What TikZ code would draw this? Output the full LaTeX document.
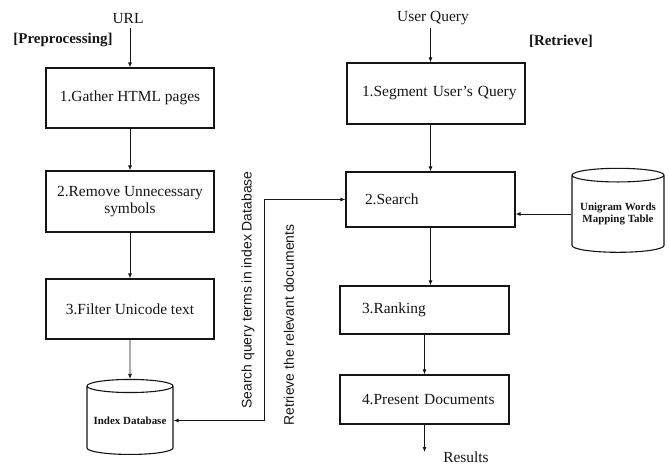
\documentclass[tikz,border=0pt]{standalone}
\usepackage{fontspec}
\setmainfont{Liberation Serif}
\newfontfamily\edgefont{Liberation Sans}
\usepackage{tikz}
\usetikzlibrary{shapes.geometric, arrows.meta, positioning, calc}
\definecolor{inkblack}{HTML}{151515}

\tikzset{
  stepbox/.style={draw=inkblack, line width=1.2bp, minimum width=168bp, minimum height=60bp,
    font=\fontsize{15.5}{17.5}\selectfont, align=center, inner sep=2bp},
  querybox/.style={stepbox, align=left, inner xsep=18bp},
  store/.style={cylinder, shape border rotate=90, draw=inkblack, line width=1.1bp, aspect=0.18,
    font=\bfseries\fontsize{11}{12.5}\selectfont, align=center, inner sep=0pt},
  flow/.style={draw=inkblack, line width=0.8bp, -{Latex[length=5bp,width=4bp]}},
  caption/.style={font=\fontsize{15.5}{17}\selectfont},
  phase/.style={font=\bfseries\fontsize{15}{17}\selectfont},
  edgelabel/.style={rotate=90, font=\edgefont\fontsize{14}{16}\selectfont}
}

\begin{document}
\begin{tikzpicture}[x=1bp, y=-1bp, inkblack]
  \useasboundingbox (0,0) rectangle (669,465);

  % Preprocessing column
  \node[caption] (url) at (128,19) {URL};
  \node[phase] (prelabel) at (63,40) {[Preprocessing]};
  \node[stepbox] (g1) at (130,98) {1.Gather HTML pages};
  \node[stepbox, minimum height=61bp] (g2) at (130,201.5) {2.Remove Unnecessary\\symbols};
  \node[stepbox] (g3) at (130,309) {3.Filter Unicode text};
  \node[store, minimum width=86bp, minimum height=75bp] (db) at (130,420.5) {Index Database};

  \draw[flow] (g1.north |- url.south) -- (g1.north);
  \foreach \a/\b in {g1/g2, g2/g3, g3/db} {
    \draw[flow] (\a) -- (\b);
  }

  % Retrieve column
  \node[caption] (query) at (433,18) {User Query};
  \node[phase] (retlabel) at (561,41) {[Retrieve]};
  \node[querybox, minimum width=178bp, minimum height=61bp, text width=148bp, inner xsep=15bp] (r1) at (436,93.5) {\mbox{1.Segment User's Query}};
  \node[querybox, minimum width=169bp, minimum height=55bp, text width=131bp, inner xsep=19bp] (r2) at (430.5,199.5) {\mbox{2.Search}};
  \node[querybox, minimum width=169bp, minimum height=48bp, text width=125bp, inner xsep=22bp] (r3) at (424.5,310) {\mbox{3.Ranking}};
  \node[querybox, minimum width=169bp, minimum height=49bp, text width=125bp, inner xsep=22bp] (r4) at (424.5,399.5) {\mbox{4.Present Documents}};
  \node[store, minimum width=92bp, minimum height=84bp] (map) at (618,214) {Unigram Words\\Mapping Table};
  \node[caption] (results) at (466,457) {Results};
  \coordinate (out) at (424.5,452);

  \draw[flow] (r2.north |- query.south) -- (r2.north |- r1.north);
  \draw[flow] (r2.north |- r1.south) -- (r2.north);
  \draw[flow] (r2.south) -- (r2.south |- r3.north);
  \draw[flow] (r3) -- (r4);
  \draw[flow] (r4) -- (out);
  \draw[flow] (map.west) -- (r2.east |- map.west);

  % Link between the two columns
  \coordinate (turn) at (264,199.5);
  \draw[flow, {Latex[length=5bp,width=4bp]}-{Latex[length=5bp,width=4bp]}] (db.east) -| (turn) -- (r2.west);
  \node[edgelabel] (searchlabel) at (248,290) {Search query terms in index Database};
  \node[edgelabel] (fetchlabel) at (289,325) {Retrieve the relevant documents};
\end{tikzpicture}
\end{document}
